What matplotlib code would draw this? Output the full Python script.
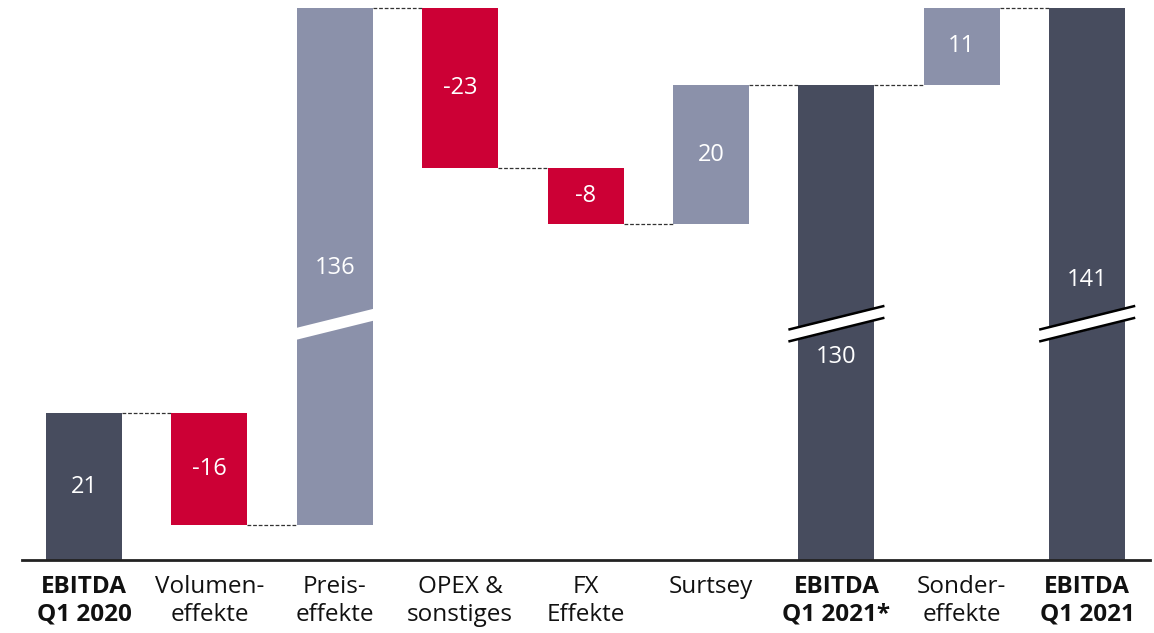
import matplotlib
matplotlib.use("Agg")
import matplotlib.pyplot as plt
import numpy as np

plt.rcParams['font.family'] = ['Open Sans', 'DejaVu Sans']

categories = ["EBITDA\nQ1 2020", "Volumen-\neffekte", "Preis-\neffekte", "OPEX &\nsonstiges",
              "FX\nEffekte", "Surtsey", "EBITDA\nQ1 2021*", "Sonder-\neffekte", "EBITDA\nQ1 2021"]
values = [21, -16, 136, -23, -8, 20, 130, 11, 141]
is_total = [True, False, False, False, False, False, True, False, True]
has_break = [False, False, True, False, False, False, True, False, True]
# label positions (display units on the broken axis) for broken bars
label_pos = {2: 41.7, 6: 29.0, 8: 40.0}

DARK = '#474C5E'
LIGHT = '#8B91AA'
RED = '#CC0035'

# broken y-scale: values 40..105 get squeezed
A, S = 40.0, 0.05
C = (A * (1 - S) + 62) / (1 - S)


def fwd(v):
    v = np.asarray(v, dtype=float)
    return np.where(v <= A, v, np.where(v < C, A + (v - A) * S, v - 62))


def inv(d):
    d = np.asarray(d, dtype=float)
    dc = C - 62
    return np.where(d <= A, d, np.where(d < dc, A + (d - A) / S, d + 62))


# cumulative bottoms/tops
bottoms, tops, ends = [], [], []
level = 0
for v, tot in zip(values, is_total):
    if tot:
        bottoms.append(0)
        tops.append(v)
        level = v
    else:
        new = level + v
        bottoms.append(min(level, new))
        tops.append(max(level, new))
        level = new
    ends.append(level)

colors = []
for v, tot in zip(values, is_total):
    if tot:
        colors.append(DARK)
    elif v < 0:
        colors.append(RED)
    else:
        colors.append(LIGHT)

fig = plt.figure(figsize=(11.54, 6.33), dpi=100)
ax = fig.add_axes([0, 73 / 633, 1, 560 / 633])
ax.set_yscale('function', functions=(fwd, inv))

x = np.arange(len(values))
w = 0.606
heights = [t - b for t, b in zip(tops, bottoms)]
ax.bar(x, heights, bottom=bottoms, width=w, color=colors, zorder=2)

# connectors
for i in range(len(values) - 1):
    ax.plot([x[i] + w / 2, x[i + 1] - w / 2], [ends[i], ends[i]],
            color='#333333', linestyle=(0, (3, 1.5)), linewidth=0.9, zorder=1)

# value labels
for i, v in enumerate(values):
    if i in label_pos:
        y = float(inv(label_pos[i]))
    else:
        y = float(inv((fwd(bottoms[i]) + fwd(tops[i])) / 2))
    ax.text(x[i], y, str(v), ha='center', va='center', color='white', fontsize=17, zorder=4)

# break marks
ext = 0.08
for i in range(len(values)):
    if not has_break[i]:
        continue
    x0, x1 = x[i] - w / 2 - ext, x[i] + w / 2 + ext
    yc = 33.8
    rise = 3.4
    th = 1.7
    ylo = [yc - rise / 2, yc + rise / 2]
    ax.fill_between([x0, x1], [ylo[0] - th / 2, ylo[1] - th / 2], [ylo[0] + th / 2, ylo[1] + th / 2],
                    color='white', linewidth=0, zorder=3)
    if is_total[i]:
        for s in (-1, 1):
            ax.plot([x0, x1], [ylo[0] + s * th / 2, ylo[1] + s * th / 2], color='black',
                    linewidth=1.8, zorder=3.5, solid_capstyle='butt')

ax.set_xlim(-84 / 125.4, (1154 - 84) / 125.4)
ax.set_ylim(0, float(inv(80.1)))

for sp in ['top', 'right', 'left']:
    ax.spines[sp].set_visible(False)
ax.spines['bottom'].set_linewidth(2)
ax.spines['bottom'].set_color('#222222')
ax.spines['bottom'].set_bounds((22 - 84) / 125.4, (1150 - 84) / 125.4)
ax.spines['bottom'].set_zorder(5)
ax.set_yticks([])
ax.yaxis.set_minor_locator(matplotlib.ticker.NullLocator())
ax.set_xticks(x)
ax.set_xticklabels(categories, fontsize=17.5, linespacing=1.2)
ax.tick_params(axis='x', length=0, pad=11, colors='#111111')
for i, lab in enumerate(ax.get_xticklabels()):
    if is_total[i]:
        lab.set_fontweight('bold')

fig.savefig('out.png', dpi=100)
